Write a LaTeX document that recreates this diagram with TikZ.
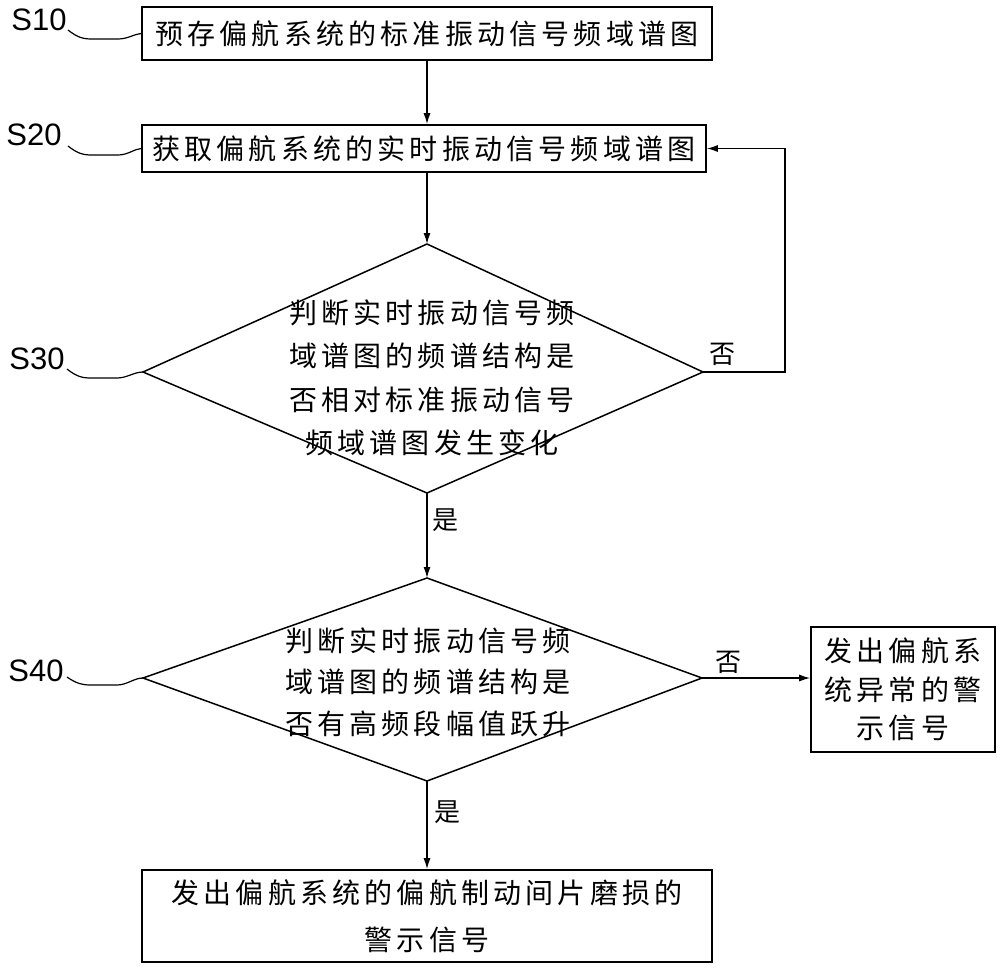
\documentclass[tikz,border=0pt]{standalone}
\usepackage{fontspec}
\newfontfamily\cjk[LetterSpace=15]{Noto Sans CJK SC}
\newfontfamily\cjkplain{Noto Sans CJK SC}
\newfontfamily\labfont{Liberation Sans}
\usetikzlibrary{arrows.meta}
\begin{document}
\begin{tikzpicture}[x=1pt,y=-1pt,
  box/.style={draw, line width=1.6pt, inner sep=0pt, align=center},
  txt/.style={inner sep=0pt, align=center},
  cjkf/.style={font=\cjk\fontsize{28}{#1}\selectfont},
  arr/.style={-{Latex[length=11pt,width=7pt]}, line width=1.4pt},
  shape line/.style={line width=1.5pt},
  lbl/.style={font=\labfont\fontsize{31}{31}\selectfont, inner sep=0pt},
  lead/.style={line width=1.2pt},
  yn/.style={font=\cjkplain\fontsize{26}{26}\selectfont, inner sep=0pt}]
\useasboundingbox (0,0) rectangle (1000,972);

% boxes
\node[box, cjkf=43, minimum width=570pt, minimum height=53pt] (s10) at (427,33.5) {预存偏航系统的标准振动信号频域谱图};
\node[box, cjkf=43, minimum width=564pt, minimum height=47pt] (s20) at (424,148.5) {获取偏航系统的实时振动信号频域谱图};
\node[box, cjkf=38.5, minimum width=184pt, minimum height=125pt] (rb) at (903,689.5) {发出偏航系\\统异常的警\\示信号};
\node[box, cjkf=47, minimum width=570pt, minimum height=92pt] (fin) at (427,916) {发出偏航系统的偏航制动间片磨损的\\警示信号};

% diamond S30
\coordinate (d1t) at (427,244);
\coordinate (d1l) at (143,372);
\coordinate (d1r) at (703,372);
\coordinate (d1b) at (427,493);
\draw[shape line] (d1t) -- (d1r) -- (d1b) -- (d1l) -- cycle;
\node[txt, cjkf=43.5] (t30) at (432,378) {判断实时振动信号频\\域谱图的频谱结构是\\否相对标准振动信号\\频域谱图发生变化};

% diamond S40
\coordinate (d2t) at (427,578);
\coordinate (d2l) at (143,678);
\coordinate (d2r) at (702,678);
\coordinate (d2b) at (427,781);
\draw[shape line] (d2t) -- (d2r) -- (d2b) -- (d2l) -- cycle;
\node[txt, cjkf=41.5] (t40) at (428,682) {判断实时振动信号频\\域谱图的频谱结构是\\否有高频段幅值跃升};

% connectors
\draw[arr] (s10.south -| d1t) -- (s20.north -| d1t);
\draw[arr] (s20.south -| d1t) -- (d1t);
\draw[arr] (d1b) -- (d2t);
\draw[arr] (d2b) -- (d2b |- fin.north);
\draw[arr] (d2r) -- (d2r -| rb.west);
\coordinate (fb) at (785,372);
\draw[arr] (d1r) -- (fb) |- (s20.east);

% yes / no labels
\node[yn] (no1) at (722,354) {否};
\node[yn] (no2) at (728,662) {否};
\node[yn] (yes1) at (445,520) {是};
\node[yn] (yes2) at (447,812) {是};

% step labels and leaders
\node[lbl] (l10) at (39,20) {S10};
\node[lbl] (l20) at (34,135) {S20};
\node[lbl] (l30) at (37,359) {S30};
\node[lbl] (l40) at (36,671) {S40};
\coordinate (q10) at (68,30);
\coordinate (q20) at (68,146);
\coordinate (q30) at (67,369);
\coordinate (q40) at (67,677);
\draw[lead] (q10) .. controls (78,38) and (84,39) .. (92,39) -- (118,39) .. controls (128,39) and (134,34) .. (s10.west);
\draw[lead] (q20) .. controls (78,154) and (84,155) .. (92,155) -- (118,155) .. controls (128,155) and (134,149) .. (s20.west);
\draw[lead] (q30) .. controls (77,377) and (83,378) .. (91,378) -- (117,378) .. controls (127,378) and (134,372) .. (d1l);
\draw[lead] (q40) .. controls (77,684) and (83,685) .. (91,685) -- (117,685) .. controls (127,685) and (134,678) .. (d2l);
\end{tikzpicture}
\end{document}
